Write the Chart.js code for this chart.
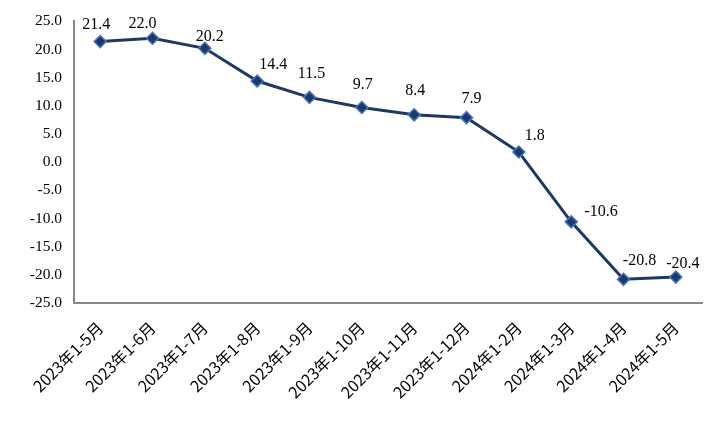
<!DOCTYPE html>
<html>
<head>
<meta charset="utf-8">
<script src="https://cdn.jsdelivr.net/npm/chart.js@4"></script>
<style>
html,body{margin:0;padding:0;background:#fff;}
#wrap{width:720px;height:426px;position:relative;}
</style>
</head>
<body>
<div id="wrap"><canvas id="c" width="720" height="426"></canvas></div>
<script>
const categories = ["2023年1-5月","2023年1-6月","2023年1-7月","2023年1-8月","2023年1-9月","2023年1-10月","2023年1-11月","2023年1-12月","2024年1-2月","2024年1-3月","2024年1-4月","2024年1-5月"];
const values = [21.4, 22.0, 20.2, 14.4, 11.5, 9.7, 8.4, 7.9, 1.8, -10.6, -20.8, -20.4];
const yMin = -25, yMax = 25, yStep = 5;

const labelOffsets = [[-4,-17],[-10,-14],[5,-12],[16,-16],[2,-24],[1,-23],[1,-24],[5,-19],[16,-16],[30,-10],[16,-19],[7,-13]];

const dataLabels = {
  id: 'dataLabels',
  afterDatasetsDraw(chart) {
    const ctx = chart.ctx;
    const meta = chart.getDatasetMeta(0);
    ctx.save();
    ctx.font = '16px "Liberation Serif", "Times New Roman", serif';
    ctx.fillStyle = '#000';
    ctx.textAlign = 'center';
    ctx.textBaseline = 'middle';
    meta.data.forEach((pt, i) => {
      const o = labelOffsets[i] || [0,-16];
      ctx.fillText(values[i].toFixed(1), pt.x + o[0], pt.y + o[1]);
    });
    ctx.restore();
  }
};

new Chart(document.getElementById('c'), {
  type: 'line',
  data: {
    labels: categories,
    datasets: [{
      data: values,
      borderColor: '#1F3864',
      borderWidth: 3,
      pointStyle: 'rectRot',
      pointRadius: 6,
      pointHoverRadius: 6,
      pointBackgroundColor: '#1F3864',
      pointBorderColor: '#4472C4',
      pointBorderWidth: 1.5,
      tension: 0
    }]
  },
  options: {
    responsive: false,
    animation: false,
    devicePixelRatio: 1,
    layout: { padding: { top: 14, right: 18, left: 0, bottom: 0 } },
    plugins: { legend: { display: false }, tooltip: { enabled: false } },
    scales: {
      x: {
        offset: true,
        grid: { display: false, drawTicks: false },
        border: { display: true, color: '#898989', width: 2 },
        ticks: {
          color: '#000',
          font: { family: '"Noto Sans CJK SC", sans-serif', size: 16 },
          maxRotation: 45, minRotation: 45,
          padding: 15,
          autoSkip: false
        },
        afterFit(s) { s.height = 123; }
      },
      y: {
        min: yMin, max: yMax,
        grid: { display: false, drawTicks: false },
        border: { display: true, color: '#898989', width: 2 },
        ticks: {
          stepSize: yStep,
          color: '#000',
          padding: 12,
          font: { family: '"Liberation Serif", "Times New Roman", serif', size: 15.5 },
          callback: v => v.toFixed(1)
        },
        afterFit(s) { s.width = 74; }
      }
    }
  },
  plugins: [dataLabels]
});
</script>
</body>
</html>
